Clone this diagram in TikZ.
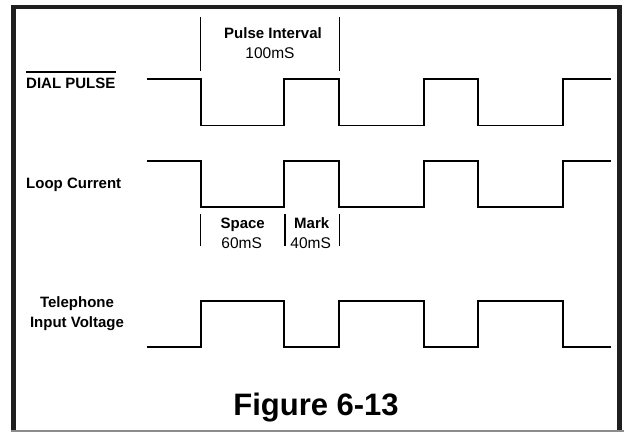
\documentclass[tikz,border=0pt]{standalone}
\usepackage{fontspec}
\setmainfont{Liberation Sans}
\begin{document}
\begin{tikzpicture}[x=1pt,y=-1pt,
  wave/.style={line width=1.9pt, line join=miter},
  tick/.style={line width=1.5pt},
  lbl/.style={inner sep=0pt, font=\fontsize{15}{18}\selectfont\bfseries},
  val/.style={inner sep=0pt, font=\fontsize{15.5}{18}\selectfont},
  framebar/.style={fill=black!88}]
\useasboundingbox (0,0) rectangle (624,432);
\fill[white] (0,0) rectangle (624,432);
% frame
\fill[framebar] (11,5) rectangle (16,432);
\fill[framebar] (11,5) rectangle (622,9);
\fill[framebar] (617,5) rectangle (622,432);
\fill[black!45] (11,430) rectangle (624,431.5);
% labels
\node[lbl, anchor=base west] (dial) at (26,88.9) {DIAL PULSE};
\draw[line width=1.5pt] ([yshift=6pt]dial.north west) -- ([yshift=6pt]dial.north east);
\node[lbl, anchor=base west] (loop) at (26,188.1) {Loop Current};
\node[lbl, anchor=base] (tel1) at (77,307.4) {Telephone};
\node[lbl, anchor=base] (tel2) at (77,327) {Input Voltage};
\node[lbl, anchor=base] (pi) at (273,38.7) {Pulse Interval};
\node[val, anchor=base] (pv) at (270,58.1) {100mS};
\node[lbl, anchor=base] (sp) at (242.7,228.1) {Space};
\node[val, anchor=base] (spv) at (241.7,248.1) {60mS};
\node[lbl, anchor=base] (mk) at (311.7,228.1) {Mark};
\node[val, anchor=base] (mkv) at (310.7,248.1) {40mS};
\node[inner sep=0pt, anchor=base, font=\fontsize{31}{36}\selectfont\bfseries] (fig) at (316,415) {Figure 6-13};
% markers
\draw[tick] (200.7,17.3) -- (200.7,71);
\draw[tick] (339.3,17.3) -- (339.3,71);
\draw[tick] (200.7,214) -- (200.7,246);
\draw[tick] (285,214) -- (285,246);
\draw[tick] (339.3,214) -- (339.3,246);
% waveforms
\draw[wave] (147,79) -| (200.7,125.5) -| (284.3,79) -| (339.3,125.5) -| (424,79) -| (478.3,125.5) -| (562.7,79) -- (611,79);
\draw[wave] (147,160.7) -| (200.7,206.7) -| (284.3,160.7) -| (339.3,206.7) -| (424,160.7) -| (478.3,206.7) -| (562.7,160.7) -- (611,160.7);
\draw[wave] (147,347.3) -| (200.7,300.7) -| (284.3,347.3) -| (339.3,300.7) -| (424,347.3) -| (478.3,300.7) -| (562.7,347.3) -- (611,347.3);
\end{tikzpicture}
\end{document}
